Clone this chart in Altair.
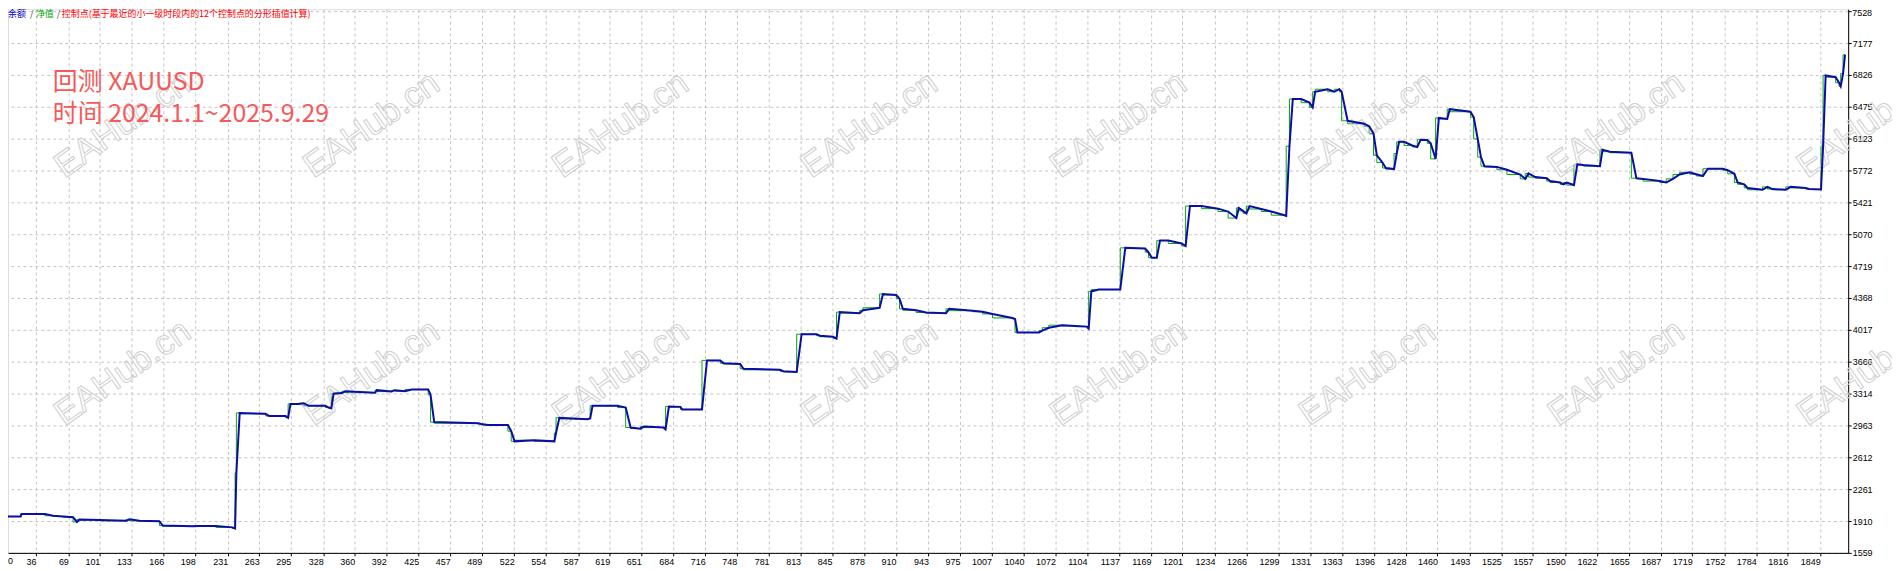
import altair as alt
import pandas as pd

# ---- data (trade index, balance) ----
trade = [4.7, 6.3, 7.0, 20.5, 21.5, 45.1, 53.5, 63.7, 73.8, 77.8, 80.5, 100.8, 127.8, 131.1, 141.2,
         161.5, 164.8, 195.2, 202.0, 218.8, 235.6, 238.4, 239.7, 243.1, 269.4, 272.8, 289.7, 292.3,
         294.7, 303.1, 308.2, 313.2, 330.1, 333.5, 336.2, 338.5, 346.9, 350.4, 380.7, 382.4, 397.5,
         400.9, 411.0, 417.8, 434.6, 437.0, 440.7, 485.2, 488.6, 495.3, 515.6, 519.0, 522.4, 542.6,
         562.8, 564.5, 567.9, 596.5, 599.2, 601.6, 626.9, 635.3, 640.3, 650.4, 653.9, 674.1, 675.8,
         679.2, 690.9, 692.6, 712.8, 717.9, 731.4, 734.8, 751.6, 755.0, 792.1, 795.5, 809.0, 814.0,
         829.2, 832.6, 846.1, 849.5, 852.8, 873.0, 876.4, 893.3, 896.7, 910.2, 913.5, 916.9, 930.4,
         940.5, 960.7, 964.1, 987.8, 997.9, 1008.0, 1028.2, 1030.9, 1033.3, 1055.2, 1058.6, 1065.3,
         1078.8, 1092.3, 1104.1, 1105.7, 1108.4, 1115.9, 1137.8, 1142.9, 1163.1, 1166.4, 1169.8,
         1174.9, 1178.2, 1186.6, 1200.2, 1204.2, 1208.6, 1220.4, 1237.2, 1247.4, 1255.8, 1258.2,
         1262.5, 1265.9, 1269.3, 1281.1, 1291.2, 1304.7, 1306.4, 1309.7, 1313.1, 1321.6, 1330.0,
         1333.3, 1335.8, 1348.6, 1355.3, 1360.4, 1362.7, 1368.8, 1385.7, 1390.7, 1395.1, 1398.5,
         1404.2, 1407.6, 1416.0, 1418.7, 1421.1, 1426.1, 1434.5, 1439.6, 1443.0, 1449.7, 1453.2,
         1458.2, 1461.5, 1470.0, 1472.6, 1493.6, 1496.9, 1501.0, 1504.3, 1507.8, 1520.5, 1530.7,
         1544.2, 1549.3, 1552.6, 1559.4, 1571.1, 1574.5, 1584.7, 1588.0, 1591.4, 1598.8, 1602.2,
         1608.3, 1625.2, 1627.8, 1635.3, 1657.1, 1662.2, 1669.0, 1685.9, 1692.6, 1699.4, 1706.1,
         1716.3, 1723.0, 1729.8, 1734.8, 1750.0, 1755.0, 1761.8, 1765.1, 1771.8, 1775.2, 1790.4,
         1795.4, 1800.5, 1814.0, 1819.0, 1834.2, 1837.6, 1849.8, 1851.9, 1854.5, 1864.7, 1868.1,
         1869.8, 1872.2, 1874.2]

balance = [2020, 2000, 1960, 1960, 1988, 1988, 1968, 1960, 1952, 1900, 1928, 1920, 1912, 1928, 1912,
           1908, 1860, 1852, 1856, 1856, 1840, 1828, 2440, 3100, 3092, 3068, 3068, 3048,
           3200, 3200, 3208, 3180, 3180, 3160, 3152, 3312, 3320, 3340, 3324, 3352, 3336,
           3352, 3340, 3360, 3360, 3300, 3000, 2988, 2980, 2968, 2968, 2900, 2788, 2800,
           2788, 2880, 3048, 3032, 3040, 3180, 3180, 3160, 2940, 2928, 2952, 2940, 2920,
           3172, 3168, 3140, 3140, 3680, 3680, 3648, 3640, 3588, 3576, 3560, 3552, 3968,
           3968, 3952, 3940, 3920, 4212, 4200, 4232, 4260, 4412, 4400, 4360, 4248, 4232,
           4208, 4200, 4248, 4228, 4216, 4192, 4148, 4136, 3988, 3988, 4008, 4040,
           4068, 4060, 4052, 4032, 4440, 4460, 4460, 4920, 4912, 4872, 4812,
           4812, 5000, 5000, 4968, 4940, 5380, 5380, 5352, 5320, 5248, 5360,
           5328, 5300, 5380, 5348, 5320, 5280, 5272, 6040, 6560, 6560, 6520,
           6468, 6640, 6668, 6640, 6668, 6640, 6320, 6288, 6260, 6180, 5940,
           5860, 5800, 5788, 5960, 6088, 6088, 6048, 6032, 6112, 6108, 6072,
           5900, 6352, 6340, 6448, 6420, 6360, 6120, 5920, 5820, 5812, 5780,
           5728, 5680, 5740, 5700, 5688, 5656, 5640, 5620, 5640, 5612, 5840,
           5832, 5820, 6000, 5980, 5968, 5688, 5680, 5656, 5640, 5680, 5728,
           5752, 5732, 5712, 5792, 5792, 5776, 5736, 5640, 5620, 5580, 5560,
           5592, 5568, 5560, 5592, 5580, 5568, 5564, 6040, 6820, 6800, 6740,
           6700, 6840, 7048]

x_ticks = [36, 69, 101, 133, 166, 198, 231, 263, 295, 328, 360, 392, 425, 457, 489, 522, 554, 587,
           619, 651, 684, 716, 748, 781, 813, 845, 878, 910, 943, 975, 1007, 1040, 1072, 1104, 1137,
           1169, 1201, 1234, 1266, 1299, 1331, 1363, 1396, 1428, 1460, 1493, 1525, 1557, 1590, 1622,
           1655, 1687, 1719, 1752, 1784, 1816, 1849]
y_ticks = [1559, 1910, 2261, 2612, 2963, 3314, 3666, 4017, 4368, 4719, 5070, 5421, 5772, 6123,
           6475, 6826, 7177, 7528]

legend_parts = ["余额", "/", "净值", "/", "控制点(基于最近的小一级时段内的12个控制点的分形插值计算)"]
legend_colors = ["#0000c8", "#404040", "#00a800", "#404040", "#ff0000"]
title_lines = ["回测 XAUUSD", "时间 2024.1.1~2025.9.29"]
watermark = "EAHub.cn"

W, H = 1848, 546
df = pd.DataFrame({"trade": trade, "balance": balance})
one = pd.DataFrame({"k": [0]})

xs = alt.Scale(domain=[7.67, 1877.4], nice=False, zero=False)
ys = alt.Scale(domain=[1559, 7550], nice=False, zero=False)

top_tick = y_ticks[-1]

x_axis = alt.Axis(values=x_ticks, title=None, grid=True, gridColor="#c4c4c4", gridDash=[3, 3],
                  labelAlign="right", labelFont="Liberation Sans", labelFontSize=9,
                  labelColor="black", labelPadding=2, tickSize=3, tickColor="black",
                  domainColor="black", labelFlush=False, labelOverlap=False, format="d")
y_axis = alt.Axis(values=y_ticks, title=None, orient="right", grid=True, gridColor="#c4c4c4",
                  gridDash=[3, 3], labelAlign="left", labelBaseline="middle",
                  labelFont="Liberation Sans", labelFontSize=9, labelColor="black",
                  labelPadding=1, tickSize=3, tickColor="black", domainColor="black",
                  labelFlush=False, labelOverlap=False, format="d",
                  labelExpr=f"datum.value == {top_tick} ? '' : datum.label")

layers = []

# watermarks
for r, wy in enumerate([116, 365]):
    for c in range(8):
        wx = 115 + 250 * c
        layers.append(
            alt.Chart(one).mark_text(text=watermark, font="Liberation Sans", fontSize=35,
                                     angle=325, align="center", baseline="middle",
                                     fillOpacity=0, stroke="#cfcfcf", strokeWidth=1)
            .encode(x=alt.value(wx), y=alt.value(wy))
        )

green = alt.Chart(df).mark_line(color="#00a800", strokeWidth=1, interpolate="step-before",
                                clip=True).encode(
    x=alt.X("trade:Q", scale=xs, axis=x_axis),
    y=alt.Y("balance:Q", scale=ys, axis=y_axis),
)
blue = alt.Chart(df).mark_line(color="#0c0ca8", strokeWidth=2, clip=True).encode(
    x=alt.X("trade:Q", scale=xs, axis=x_axis),
    y=alt.Y("balance:Q", scale=ys, axis=y_axis),
)
layers = [green] + layers + [blue]

# legend line
leg_x = [0, 22, 28, 49, 54]
for part, col, lx in zip(legend_parts, legend_colors, leg_x):
    layers.append(
        alt.Chart(one).mark_text(text=part, font="Noto Sans CJK SC", fontSize=9, color=col,
                                 align="left", baseline="middle")
        .encode(x=alt.value(lx), y=alt.value(5))
    )

# big red caption
for line, ty in zip(title_lines, [81, 113]):
    layers.append(
        alt.Chart(one).mark_text(text=line, font="Noto Sans CJK SC", fontSize=25,
                                 color="#f55a5a", align="left", baseline="alphabetic")
        .encode(x=alt.value(45), y=alt.value(ty))
    )

# first x label "0" at left edge, and top y label kept inside the page
layers.append(
    alt.Chart(one).mark_text(text="0", font="Liberation Sans", fontSize=9, color="black",
                             align="left", baseline="top")
    .encode(x=alt.value(0), y=alt.value(H + 4))
)
layers.append(
    alt.Chart(one).mark_text(text=str(top_tick), font="Liberation Sans", fontSize=9,
                             color="black", align="left", baseline="top")
    .encode(x=alt.value(W + 4), y=alt.value(0))
)

chart = alt.layer(*layers).properties(
    width=W, height=H,
    autosize=alt.AutoSizeParams(type="none"),
    padding={"left": 0, "top": 0, "right": 44, "bottom": 13},
).configure_view(stroke="black", strokeWidth=1).configure(background="white")

chart.save("out.html", embed_options={"renderer": "svg", "actions": False})
